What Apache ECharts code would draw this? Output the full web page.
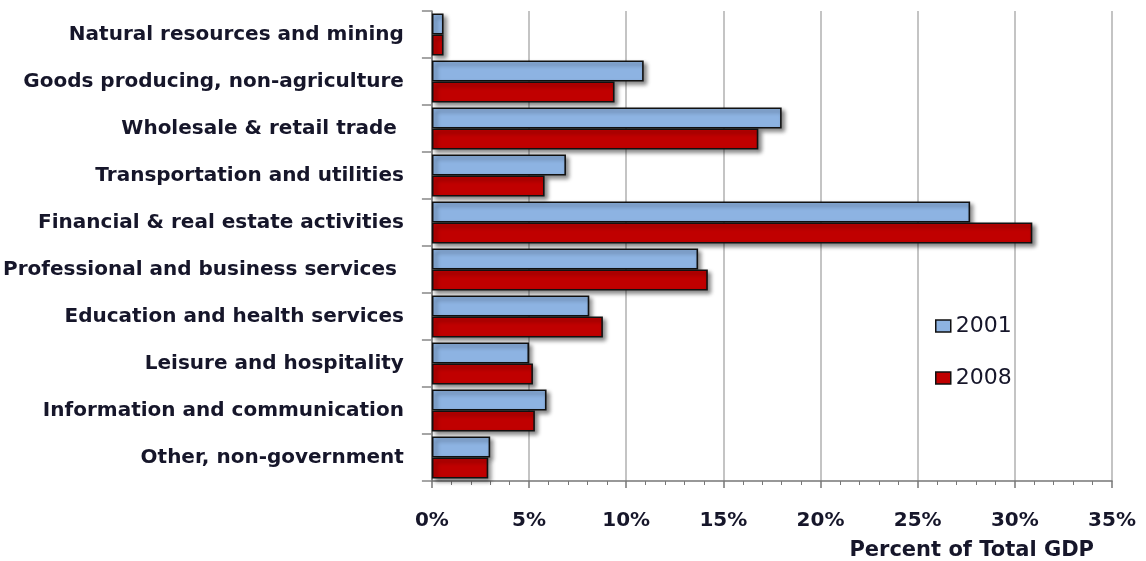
<!DOCTYPE html>
<html>
<head>
<meta charset="utf-8">
<script src="https://cdn.jsdelivr.net/npm/echarts@6/dist/echarts.min.js"></script>
<style>
  html, body { margin: 0; padding: 0; background: #ffffff; }
  #chart { width: 1146px; height: 561px; }
</style>
</head>
<body>
<div id="chart"></div>
<script>
// Sectors, top to bottom
const categories = [
  'Natural resources and mining',
  'Goods producing, non-agriculture',
  'Wholesale & retail trade ',
  'Transportation and utilities',
  'Financial & real estate activities',
  'Professional and business services ',
  'Education and health services',
  'Leisure and hospitality',
  'Information and communication',
  'Other, non-government'
];

// Share of total GDP, percent
const share2001 = [0.6, 10.9, 18.0, 6.9, 27.7, 13.7, 8.1, 5.0, 5.9, 3.0];
const share2008 = [0.6, 9.4, 16.8, 5.8, 30.9, 14.2, 8.8, 5.2, 5.3, 2.9];

const seriesNames = ['2001', '2008'];
const xTicks = [0, 5, 10, 15, 20, 25, 30, 35];

const FONT = '"DejaVu Sans", sans-serif';
const TEXT = '#16162a';

const chart = echarts.init(document.getElementById('chart'));

const barStyle = (color) => ({
  color: color,
  borderColor: '#111111',
  borderWidth: 1.6,
  shadowColor: 'rgba(0,0,0,0.45)',
  shadowBlur: 4,
  shadowOffsetX: 3,
  shadowOffsetY: 3
});

chart.setOption({
  animation: false,
  backgroundColor: '#ffffff',
  grid: { left: 431, right: 34, top: 11, bottom: 80, containLabel: false },
  legend: {
    data: seriesNames,
    orient: 'vertical',
    left: 935,
    top: 315,
    padding: 0,
    icon: 'rect',
    itemWidth: 15,
    itemHeight: 12,
    itemGap: 30,
    itemStyle: { borderColor: '#111111', borderWidth: 1.5, shadowBlur: 0, shadowOffsetX: 0, shadowOffsetY: 0 },
    textStyle: { fontFamily: FONT, fontSize: 22, color: TEXT }
  },
  xAxis: {
    type: 'value',
    min: xTicks[0],
    max: xTicks[xTicks.length - 1],
    interval: 5,
    axisLine: { show: true, lineStyle: { color: '#777777', width: 1.5 } },
    axisTick: { show: true, length: 7, lineStyle: { color: '#777777', width: 1.5 } },
    minorTick: { show: true, splitNumber: 5, length: 4, lineStyle: { color: '#777777', width: 1 } },
    splitLine: { show: true, lineStyle: { color: '#c4c4c4', width: 2 } },
    axisLabel: {
      margin: 30,
      fontFamily: FONT, fontSize: 20, fontWeight: 'bold', color: TEXT,
      formatter: (v) => v + '%'
    }
  },
  yAxis: {
    type: 'category',
    data: categories,
    inverse: true,
    axisLine: { show: true, lineStyle: { color: '#777777', width: 1.5 } },
    axisTick: { show: true, length: 10, lineStyle: { color: '#888888', width: 1.5 } },
    axisLabel: {
      margin: 28,
      fontFamily: FONT, fontSize: 20, fontWeight: 'bold', color: TEXT
    }
  },
  graphic: [{
    type: 'text',
    right: 52,
    top: 540,
    style: {
      text: 'Percent of Total GDP',
      font: 'bold 21px ' + FONT,
      fill: TEXT
    }
  }],
  series: [
    {
      name: seriesNames[0],
      type: 'bar',
      data: share2001,
      barWidth: 21,
      barGap: '0%',
      itemStyle: barStyle('#8db3e2')
    },
    {
      name: seriesNames[1],
      type: 'bar',
      data: share2008,
      barWidth: 21,
      barGap: '0%',
      itemStyle: barStyle('#c00000')
    }
  ]
});
</script>
</body>
</html>
